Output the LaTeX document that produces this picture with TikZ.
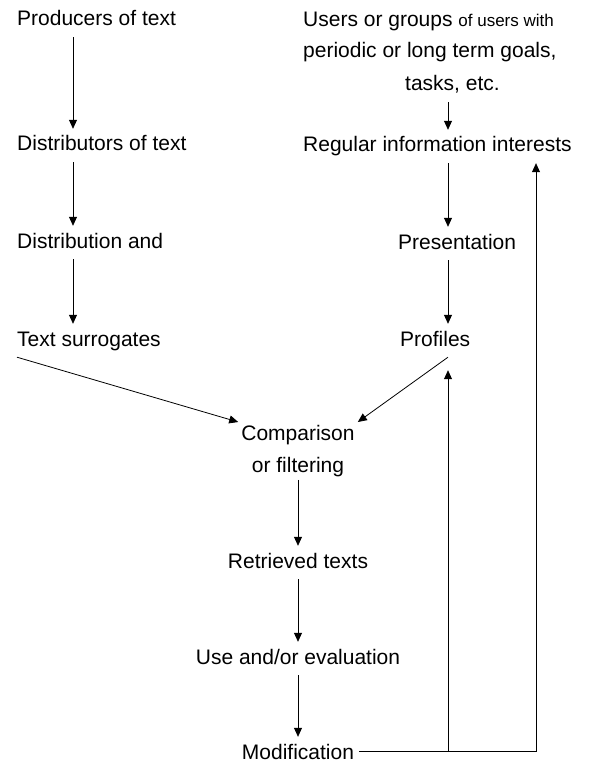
\documentclass[tikz,border=0pt]{standalone}
\usepackage{fontspec}
\setmainfont{Liberation Sans}
\usetikzlibrary{arrows.meta}

\tikzset{
  txt/.style={font=\fontsize{21}{32}\selectfont, inner xsep=0pt, inner ysep=7pt,
              text height=15pt, text depth=4pt, anchor=base west},
  arr/.style={-{Triangle[length=9pt,width=8pt]}, line width=0.8pt},
  ln/.style={line width=0.8pt},
}

\begin{document}
\begin{tikzpicture}[x=1pt,y=-1pt]
    \useasboundingbox (0,0) rectangle (592,762);

    % x positions of the vertical lines
    \coordinate (lx) at (73,0);
    \coordinate (rx) at (448,0);
    \coordinate (fb) at (536,0);

    % left column
    \node[txt] (prod) at (17,26) {Producers of text};
    \node[txt] (dist) at (17,151) {Distributors of text};
    \node[txt] (distb) at (17,248) {Distribution and};
    \node[txt] (surr) at (17,346) {Text surrogates};

    % right column
    \node[txt] (users) at (303,27) {Users or groups {\fontsize{17}{20}\selectfont of users with}};
    \node[txt] (usersb) at (303,58) {periodic or long term goals,};
    \node[txt] (usersc) at (405,91) {tasks, etc.};
    \node[txt] (reg) at (303,152) {Regular information interests};
    \node[txt] (pres) at (398,249) {Presentation};
    \node[txt] (prof) at (400,346) {Profiles};

    % middle column
    \node[font=\fontsize{21}{32}\selectfont, align=center, inner sep=3pt] (comp) at (298,451) {Comparison\\or filtering};
    \node[txt, anchor=base] (retr) at (298,568) {Retrieved texts};
    \node[txt, anchor=base] (use) at (298,664) {Use and/or evaluation};
    \node[txt, anchor=base] (mod) at (298,759) {Modification};

    % arrows down the left side
    \draw[arr] (prod.south -| lx) -- (dist.north -| lx);
    \draw[arr] (dist.south -| lx) -- (distb.north -| lx);
    \draw[arr] (distb.south -| lx) -- (surr.north -| lx);

    % arrows down the right side
    \draw[arr] (usersc.south -| rx) -- (reg.north -| rx);
    \draw[arr] (reg.south -| rx) -- (pres.north -| rx);
    \draw[arr] (pres.south -| rx) -- (prof.north -| rx);

    % into the comparison
    \draw[arr] (surr.south west) -- (comp.north west);
    \draw[arr] (prof.south -| rx) -- (comp.north east);

    % down the middle
    \draw[arr] (comp.south) -- (retr.north);
    \draw[arr] (retr.south) -- (use.north);
    \draw[arr] (use.south) -- (mod.north);

    % feedback from modification
    \draw[arr] ([xshift=5pt,yshift=2pt]mod.east) -| (reg.south -| fb);
    \draw[arr, shorten >=13pt] ([yshift=2pt]mod.east -| rx) -- (prof.south -| rx);

\end{tikzpicture}
\end{document}
